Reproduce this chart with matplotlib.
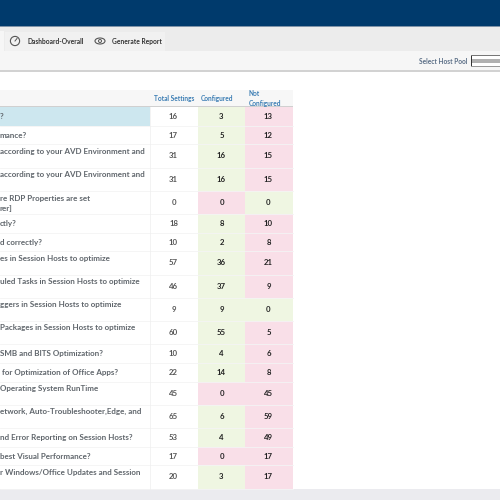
import matplotlib
matplotlib.use("Agg")
import matplotlib.pyplot as plt
from matplotlib.patches import Rectangle, Circle, Ellipse

questions = ["?", "mance?", "according to your AVD Environment and",
             "according to your AVD Environment and",
             "re RDP Properties are set\nrer]", "ctly?", "d correctly?",
             "es in Session Hosts to optimize",
             "uled Tasks in Session Hosts to optimize",
             "ggers in Session Hosts to optimize",
             "Packages in Session Hosts to optimize",
             "SMB and BITS Optimization?",
             " for Optimization of Office Apps?",
             "Operating System RunTime",
             "etwork, Auto-Troubleshooter,Edge, and",
             "nd Error Reporting on Session Hosts?",
             "best Visual Performance?",
             "r Windows/Office Updates and Session"]
total = [16, 17, 31, 31, 0, 18, 10, 57, 46, 9, 60, 10, 22, 45, 65, 53, 17, 20]
configured = [3, 5, 16, 16, 0, 8, 2, 36, 37, 9, 55, 4, 14, 0, 6, 4, 0, 3]
not_configured = [13, 12, 15, 15, 0, 10, 8, 21, 9, 0, 5, 6, 8, 45, 59, 49, 17, 17]
row_lines = [1, 1, 2, 2, 2, 1, 1, 2, 2, 2, 2, 1, 1, 2, 2, 1, 1, 2]
headers = ["Total Settings", "Configured", "Not\nConfigured"]

GREEN, PINK = "#eff6e2", "#f9dfe8"
LINK = "#3a7cb3"
FONT = "Lato"

fig = plt.figure(figsize=(5, 5), dpi=100, facecolor="white")
ax = fig.add_axes([0, 0, 1, 1])
ax.set_xlim(0, 500)
ax.set_ylim(500, 0)
ax.axis("off")


def box(x, y, w, h, c, z=1):
    ax.add_patch(Rectangle((x, y), w, h, fc=c, ec="none", zorder=z))


# application chrome
box(0, 0, 500, 26, "#003a6c")
box(0, 26, 500, 1, "#7f93a8")
box(0, 27, 500, 24, "#ececec")
box(0, 51, 500, 19, "#f6f6f6")
box(0, 70, 500, 2, "#d2d2d2")
box(0, 31, 4, 21, "#f6f6f6")
box(5, 32, 83, 19, "#f1f1f1")
box(88, 32, 77, 19, "#f1f1f1")
box(87.5, 32, 0.8, 19, "#e2e2e2", 2)
box(164.5, 32, 0.8, 19, "#e2e2e2", 2)
ax.add_patch(Circle((15, 41), 4.6, fc="none", ec="#555555", lw=0.8, zorder=3))
ax.plot([15, 17], [41, 38.5], color="#555555", lw=0.7, zorder=3)
ax.add_patch(Ellipse((100, 41), 10, 6, fc="none", ec="#555555", lw=0.8, zorder=3))
ax.add_patch(Circle((100, 41), 1.5, fc="none", ec="#555555", lw=0.7, zorder=3))
ax.text(27, 41.5, "Dashboard-Overall", fontsize=4.8, fontweight="bold", family=FONT,
        color="#333333", va="center")
ax.text(111.5, 41.5, "Generate Report", fontsize=4.8, fontweight="bold", family=FONT,
        color="#333333", va="center")
ax.text(467, 61, "Select Host Pool", fontsize=4.7, fontweight="bold", family=FONT,
        color="#5a6e86", ha="right", va="center")
box(471, 55, 29, 11, "#ffffff", 2)
box(472, 59, 28, 4, "#b0b0b0", 3)
box(470.5, 55, 1, 12, "#333333", 4)
box(471, 55, 29, 0.8, "#777777", 4)
box(471, 66, 29, 0.8, "#999999", 4)

# table
COL_X = [150, 198, 245]
COL_W = [48, 47, 48]
HEAD_PAD = [4, 3, 3.5]
box(0, 90, 293, 16, "#f7f7f7")
box(0, 106, 293, 1.2, "#d0d0d0", 3)
for x, pad, h in zip(COL_X, HEAD_PAD, headers):
    ax.text(x + pad, 98.5, h, fontsize=4.7, fontweight="bold", family=FONT, color=LINK,
            va="center", linespacing=1.35)

y = 107.0
for i, (q, t, c, n, k) in enumerate(zip(questions, total, configured,
                                        not_configured, row_lines)):
    h = 23.2 if k == 2 else 18.7
    mid = y + h / 2
    if i == 0:
        box(0, y, 150, h, "#cde7ef")
    box(COL_X[1], y, COL_W[1], h, GREEN if c > 0 else PINK)
    box(COL_X[2], y, COL_W[2], h, PINK if n > 0 else GREEN)
    ax.plot([0, 293], [y + h, y + h], color="#f4f4f4", lw=0.6, zorder=2)
    ty = mid if k == 1 else y + 7
    if "\n" in q:
        ax.text(0, y + 12.5, q, fontsize=5.75, fontweight="bold", family=FONT, color="#60666c",
                va="center", linespacing=1.5)
    else:
        ax.text(0, ty, q, fontsize=5.75, fontweight="bold", family=FONT, color="#60666c",
                va="center")
    ax.text(COL_X[0] + COL_W[0] / 2 - 0.5, mid, str(t), fontsize=5.6, fontweight="bold",
            family=FONT, color="#555555", ha="center", va="center")
    ax.text(COL_X[1] + COL_W[1] / 2, mid, str(c), fontsize=5.6, fontweight="bold",
            family=FONT, color="#222222", ha="center", va="center")
    ax.text(COL_X[2] + COL_W[2] / 2 - 0.5, mid, str(n), fontsize=5.6, fontweight="bold",
            family=FONT, color="#222222", ha="center", va="center")
    y += h

ax.plot([150, 150], [107, y], color="#eeeeee", lw=0.5, zorder=2)
box(0, 489, 500, 11, "#ebebef")

fig.savefig("out.png", dpi=100)
